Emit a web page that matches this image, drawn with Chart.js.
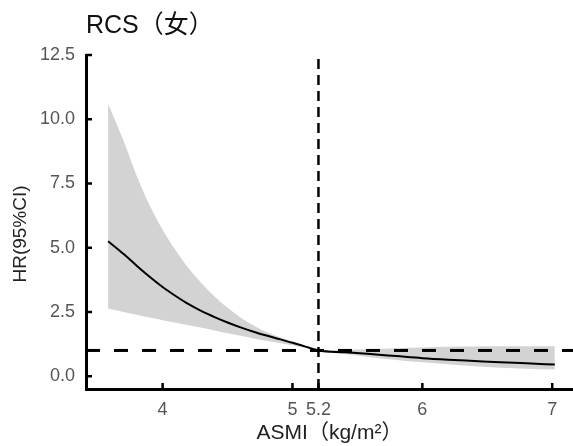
<!DOCTYPE html>
<html><head><meta charset="utf-8">
<script src="https://cdn.jsdelivr.net/npm/chart.js@4/dist/chart.umd.min.js"></script>
<style>html,body{margin:0;padding:0;background:#fff;}canvas{display:block;}</style>
</head><body>
<canvas id="c" width="573" height="446"></canvas>
<script>
const TITLE = 'RCS（女）';
const X_LABEL = 'ASMI（kg/m²）';
const Y_LABEL = 'HR(95%CI)';

const ASMI     = [3.58, 3.7, 3.8, 3.9, 4.0, 4.1, 4.2, 4.3, 4.4, 4.5, 4.6, 4.7, 4.8, 4.9, 5.0, 5.1, 5.2, 5.4, 5.6, 5.8, 6.0, 6.2, 6.4, 6.6, 6.8, 7.02];
const HR       = [5.25, 4.75, 4.30, 3.87, 3.47, 3.12, 2.80, 2.53, 2.30, 2.09, 1.90, 1.73, 1.58, 1.44, 1.30, 1.15, 1.00, 0.93, 0.86, 0.78, 0.70, 0.64, 0.59, 0.54, 0.50, 0.45];
const HR_UPPER = [10.6, 9.15, 7.80, 6.65, 5.70, 4.90, 4.20, 3.62, 3.10, 2.66, 2.28, 1.97, 1.72, 1.52, 1.35, 1.17, 1.00, 1.03, 1.06, 1.09, 1.12, 1.14, 1.15, 1.16, 1.16, 1.16];
const HR_LOWER = [2.62, 2.50, 2.39, 2.28, 2.18, 2.08, 1.98, 1.88, 1.78, 1.67, 1.57, 1.47, 1.38, 1.29, 1.20, 1.10, 1.00, 0.86, 0.74, 0.63, 0.54, 0.46, 0.39, 0.33, 0.29, 0.26];

const X_TICKS = [4, 5, 5.2, 6, 7];
const Y_TICKS = [0, 2.5, 5, 7.5, 10, 12.5];
const X_RANGE = [3.41, 7.16];
const Y_RANGE = [-0.5, 12.5];
const REF_HR = 1;
const CUT_ASMI = 5.2;

const FONT = "'Liberation Sans', Arial, 'Noto Sans CJK SC', sans-serif";
Chart.defaults.font.family = FONT;

const pts = (ys) => ASMI.map((x, i) => ({x: x, y: ys[i]}));

const innerTicks = {
  id: 'innerTicks',
  afterDraw(chart) {
    const {ctx, chartArea, scales} = chart;
    ctx.save();
    ctx.strokeStyle = '#000';
    ctx.lineWidth = 2.5;
    ctx.beginPath();
    scales.x.ticks.forEach(t => {
      const px = scales.x.getPixelForValue(t.value);
      ctx.moveTo(px, chartArea.bottom);
      ctx.lineTo(px, chartArea.bottom - 6);
    });
    scales.y.ticks.forEach(t => {
      const py = scales.y.getPixelForValue(t.value);
      ctx.moveTo(chartArea.left, py);
      ctx.lineTo(chartArea.left + 6, py);
    });
    ctx.stroke();
    // y axis title
    ctx.fillStyle = '#222';
    ctx.font = '19px ' + FONT;
    ctx.textAlign = 'center';
    ctx.textBaseline = 'middle';
    ctx.translate(21, (chartArea.top + chartArea.bottom) / 2 + 12);
    ctx.rotate(-Math.PI / 2);
    ctx.fillText(Y_LABEL, 0, 0);
    ctx.restore();
  }
};

new Chart(document.getElementById('c'), {
  type: 'line',
  data: {
    datasets: [
      { data: [{x: X_RANGE[0], y: REF_HR}, {x: X_RANGE[1], y: REF_HR}], borderColor: '#000', borderWidth: 3, borderDash: [14, 14], pointRadius: 0, fill: false },
      { data: [{x: CUT_ASMI, y: Y_RANGE[0]}, {x: CUT_ASMI, y: Y_RANGE[1]}], borderColor: '#000', borderWidth: 2.5, borderDash: [10, 6], pointRadius: 0, fill: false },
      { data: pts(HR), borderColor: '#000', borderWidth: 2, pointRadius: 0, fill: false, cubicInterpolationMode: 'monotone' },
      { data: pts(HR_UPPER), borderColor: 'rgba(0,0,0,0)', borderWidth: 1, pointRadius: 0, fill: '+1', backgroundColor: '#d3d3d3', cubicInterpolationMode: 'monotone' },
      { data: pts(HR_LOWER), borderColor: 'rgba(0,0,0,0)', borderWidth: 1, pointRadius: 0, fill: false, cubicInterpolationMode: 'monotone' }
    ]
  },
  options: {
    animation: false,
    responsive: false,
    devicePixelRatio: 1,
    layout: { padding: 0 },
    plugins: {
      legend: { display: false },
      tooltip: { enabled: false },
      title: { display: true, text: TITLE, align: 'start', fullSize: false, color: '#111',
               font: { size: 25, weight: 'normal' }, padding: { top: 11, bottom: 14 } }
    },
    scales: {
      x: {
        type: 'linear', min: X_RANGE[0], max: X_RANGE[1],
        afterBuildTicks: s => { s.ticks = X_TICKS.map(v => ({value: v})); },
        afterFit: s => { s.height = 57; },
        ticks: { autoSkip: false, maxRotation: 0, padding: 10, color: '#555', font: { size: 18 }, callback: v => String(v) },
        grid: { display: false, drawTicks: false },
        border: { display: true, color: '#000', width: 3 },
        title: { display: true, text: X_LABEL, color: '#222', font: { size: 21 }, padding: { top: 0, bottom: 0 } }
      },
      y: {
        type: 'linear', min: Y_RANGE[0], max: Y_RANGE[1],
        afterBuildTicks: s => { s.ticks = Y_TICKS.map(v => ({value: v})); },
        afterFit: s => { s.width = 86; },
        ticks: { autoSkip: false, padding: 11, color: '#555', font: { size: 18 }, callback: v => Number(v).toFixed(1) },
        grid: { display: false, drawTicks: false },
        border: { display: true, color: '#000', width: 3 }
      }
    }
  },
  plugins: [innerTicks]
});
</script>
</body></html>
